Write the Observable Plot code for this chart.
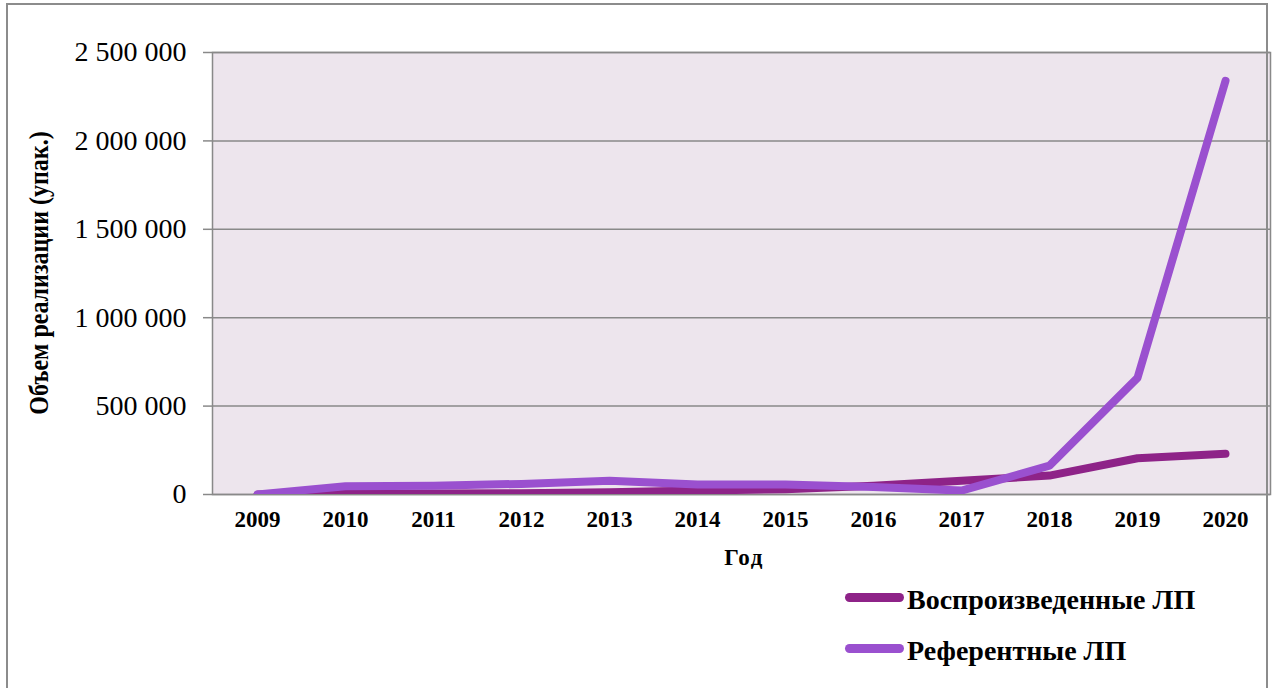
<!DOCTYPE html>
<html>
<head>
<meta charset="utf-8">
<script src="https://cdn.jsdelivr.net/npm/d3@7"></script>
<script src="https://cdn.jsdelivr.net/npm/@observablehq/plot@0.6"></script>
<style>
  html, body { margin: 0; padding: 0; background: #fff; overflow: hidden; }
  #wrap { position: relative; width: 1272px; height: 688px; font-family: "Liberation Serif", "Times New Roman", serif; }
  #border { position: absolute; left: 6px; top: 3px; width: 1262px; height: 720px; border: 2px solid #8c8c8c; box-sizing: border-box; pointer-events: none; }
  .lbl { position: absolute; font-weight: bold; color: #000; white-space: nowrap; font-family: "Liberation Serif", "Times New Roman", serif; }
  .sw { position: absolute; height: 9px; border-radius: 5px; }
</style>
</head>
<body>
<div id="wrap"></div>
<script>
const years = ["2009","2010","2011","2012","2013","2014","2015","2016","2017","2018","2019","2020"];
const reproduced = [0, 4000, 5000, 7000, 13000, 22000, 30000, 50000, 78000, 107000, 205000, 230000];
const reference = [0, 47000, 50000, 60000, 78000, 56000, 57000, 42000, 22000, 163000, 660000, 2340000];
const yTicks = [0, 500000, 1000000, 1500000, 2000000, 2500000];
const seriesNames = ["Воспроизведенные ЛП", "Референтные ЛП"];
const seriesColors = ["#8E2388", "#9A50CF"];
const xTitle = "Год";
const yTitle = "Объем реализации (упак.)";

const repData = years.map((y, i) => ({year: y, value: reproduced[i]}));
const refData = years.map((y, i) => ({year: y, value: reference[i]}));
const fmt = d => d3.format(",")(d).replace(/,/g, " ");

const chart = Plot.plot({
  width: 1272,
  height: 688,
  marginLeft: 212,
  marginRight: 2,
  marginTop: 52,
  marginBottom: 194,
  style: {background: "transparent", fontFamily: "'Liberation Serif', 'Times New Roman', serif", color: "#000"},
  x: {type: "point", domain: years, padding: 0.5, label: null},
  y: {domain: [0, 2500000], label: null},
  marks: [
    Plot.frame({fill: "#EDE5ED", stroke: null}),
    Plot.gridY(yTicks, {stroke: "#898989", strokeOpacity: 1, strokeWidth: 1.5}),
    Plot.frame({stroke: "#898989", strokeWidth: 1.5}),
    Plot.axisY(yTicks, {tickSize: 9, tickPadding: 17, stroke: "#898989", strokeWidth: 1.5, fontSize: 28, tickFormat: fmt, label: null}),
    Plot.axisX({tickSize: 0, tickPadding: 16, fontSize: 23, fontWeight: "bold", label: null}),
    Plot.line(repData, {x: "year", y: "value", stroke: seriesColors[0], strokeWidth: 8, strokeLinecap: "round", strokeLinejoin: "round", clip: true}),
    Plot.line(refData, {x: "year", y: "value", stroke: seriesColors[1], strokeWidth: 8, strokeLinecap: "round", strokeLinejoin: "round", clip: true})
  ]
});

const wrap = document.getElementById("wrap");
wrap.appendChild(chart);

const border = document.createElement("div");
border.id = "border";
wrap.appendChild(border);

function addLabel(text, css) {
  const el = document.createElement("div");
  el.className = "lbl";
  el.textContent = text;
  Object.assign(el.style, css);
  wrap.appendChild(el);
  return el;
}

addLabel(xTitle, {left: "744px", top: "558px", fontSize: "23px", letterSpacing: "1.5px", transform: "translate(-50%, -50%)"});
addLabel(yTitle, {left: "40px", top: "273px", fontSize: "24px", transform: "translate(-50%, -50%) rotate(-90deg) scaleY(1.1)"});

seriesNames.forEach((name, i) => {
  const cy = 597 + i * 51;
  const sw = document.createElement("div");
  sw.className = "sw";
  Object.assign(sw.style, {left: "845px", width: "59px", top: (cy - 4.5) + "px", background: seriesColors[i]});
  wrap.appendChild(sw);
  addLabel(name, {left: "907px", top: (cy + 3) + "px", fontSize: "28px", transform: "translate(0, -50%)"});
});
</script>
</body>
</html>
